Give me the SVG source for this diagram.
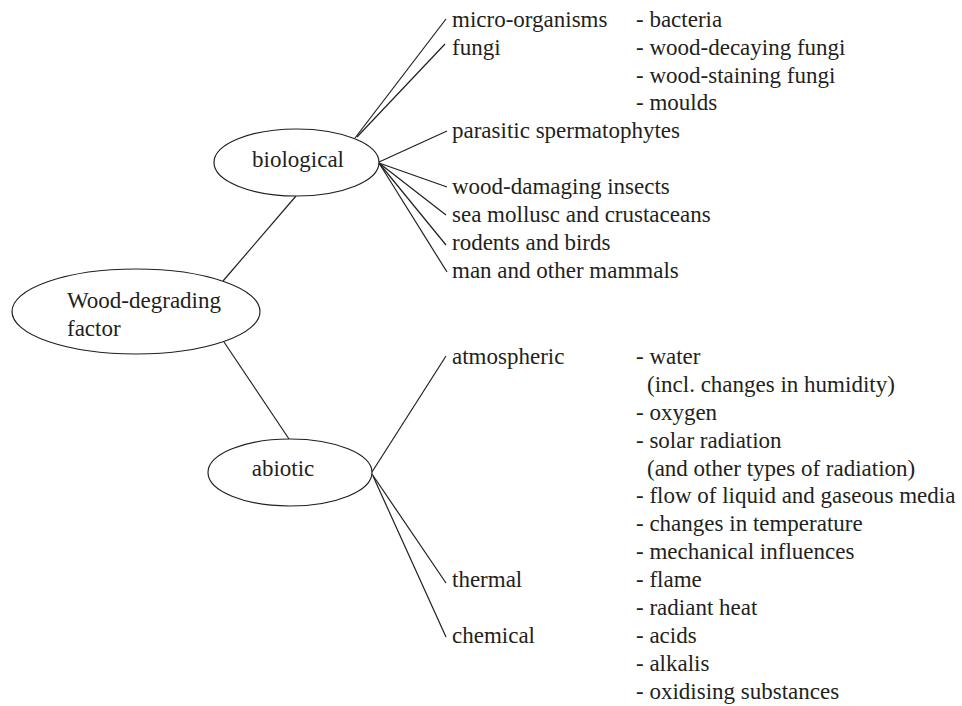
<svg xmlns="http://www.w3.org/2000/svg" width="962" height="706" viewBox="0 0 962 706">
<style>
.n ellipse{fill:#fff;stroke:#231f20;stroke-width:1.2}
#connectors line{stroke:#231f20;stroke-width:1.2}
</style>
<rect width="962" height="706" fill="#fff"/>
<g id="connectors">
<line x1="223" y1="281" x2="296" y2="196"/>
<line x1="224" y1="342" x2="289" y2="439"/>
<line x1="355" y1="138" x2="446" y2="19"/>
<line x1="357" y1="137" x2="445" y2="44"/>
<line x1="379" y1="162" x2="447" y2="131"/>
<line x1="379" y1="163" x2="447" y2="187"/>
<line x1="379" y1="163" x2="446" y2="215"/>
<line x1="379" y1="163" x2="446" y2="245"/>
<line x1="379" y1="163" x2="447" y2="272"/>
<line x1="372" y1="472" x2="446" y2="356"/>
<line x1="372" y1="474" x2="446" y2="583"/>
<line x1="373" y1="476" x2="446" y2="637"/>
</g>
<g font-family="Liberation Serif, Times New Roman, serif" font-size="23" fill="#231f20">
<g id="wood" class="n">
<ellipse cx="136" cy="311.5" rx="124" ry="42.5"/>
<text x="67" y="308">Wood-degrading</text>
<text x="67" y="336">factor</text>
</g>
<g id="biological" class="n">
<ellipse cx="296.5" cy="162.5" rx="82.5" ry="33.5"/>
<text x="298" y="167" text-anchor="middle">biological</text>
</g>
<g id="abiotic" class="n">
<ellipse cx="290" cy="472.5" rx="82" ry="33.5"/>
<text x="283" y="476" text-anchor="middle">abiotic</text>
</g>
<g id="bio-items">
<text x="452" y="27">micro-organisms</text>
<text x="452" y="55">fungi</text>
<text x="452" y="138">parasitic spermatophytes</text>
<text x="452" y="194">wood-damaging insects</text>
<text x="452" y="222">sea mollusc and crustaceans</text>
<text x="452" y="250">rodents and birds</text>
<text x="452" y="278">man and other mammals</text>
<text x="636" y="27">- bacteria</text>
<text x="636" y="55">- wood-decaying fungi</text>
<text x="636" y="83">- wood-staining fungi</text>
<text x="636" y="110">- moulds</text>
</g>
<g id="abio-items">
<text x="452" y="364">atmospheric</text>
<text x="452" y="587">thermal</text>
<text x="452" y="643">chemical</text>
<text x="636" y="364">- water</text>
<text x="647" y="392">(incl. changes in humidity)</text>
<text x="636" y="420">- oxygen</text>
<text x="636" y="448">- solar radiation</text>
<text x="647" y="476">(and other types of radiation)</text>
<text x="636" y="503">- flow of liquid and gaseous media</text>
<text x="636" y="531">- changes in temperature</text>
<text x="636" y="559">- mechanical influences</text>
<text x="636" y="587">- flame</text>
<text x="636" y="615">- radiant heat</text>
<text x="636" y="643">- acids</text>
<text x="636" y="671">- alkalis</text>
<text x="636" y="699">- oxidising substances</text>
</g>
</g>
</svg>
